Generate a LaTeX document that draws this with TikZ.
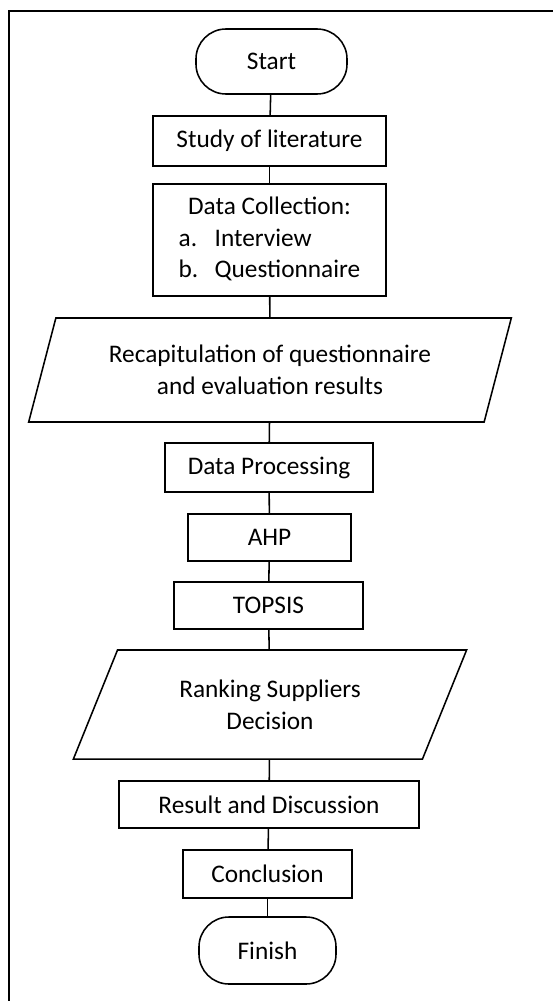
\documentclass[tikz,border=0pt]{standalone}
\usepackage{fontspec}
\setmainfont{Carlito}
\usepackage{tikz}
\usetikzlibrary{shapes.geometric}

\begin{document}
\begin{tikzpicture}[x=0.025cm, y=-0.025cm,
            font=\fontsize{18}{22.5}\selectfont,
            box/.style={draw, line width=1.1pt, align=center, inner sep=0pt},
            terminal/.style={box, rounded corners=0.75cm},
            iobox/.style={draw, line width=1.1pt, align=center, trapezium, trapezium stretches=true, inner sep=0pt},
            link/.style={line width=1.1pt}]

            % Page frame (cut at right and bottom)
            \useasboundingbox (0,0) rectangle (553,1001);
            \coordinate (frameBL) at (9,1001);
            \coordinate (frameTL) at (9,11);
            \coordinate (frameTR) at (553,11);
            \draw[line width=1.6pt] (frameBL) -- (frameTL) -- (frameTR);

            % Flow steps
            \node[terminal, minimum width=3.775cm, minimum height=1.625cm] (start) at (271.5,61.5) {Start};
            \node[box, minimum width=5.825cm, minimum height=1.25cm] (study) at (269.5,141) {Study of literature};
            \node[box, minimum width=5.825cm, minimum height=2.8cm] (collect) at (269.5,240) {%
                \begin{tabular}{@{}l@{}}
                \multicolumn{1}{@{}c@{}}{Data Collection:}\\
                \makebox[0.9cm][l]{a.}Interview\\
                \makebox[0.9cm][l]{b.}Questionnaire
                \end{tabular}};
            \node[iobox, trapezium left angle=67.5, trapezium right angle=112.5, minimum width=12.1cm, minimum height=2.6cm] (recap) at (270,370) {Recapitulation of questionnaire\\and evaluation results};
            \node[box, minimum width=5.2cm, minimum height=1.225cm] (process) at (269,467.5) {Data Processing};
            \node[box, minimum width=4.075cm, minimum height=1.175cm] (ahp) at (269.5,537.5) {AHP};
            \node[box, minimum width=4.725cm, minimum height=1.175cm] (topsis) at (268.5,605.5) {TOPSIS};
            \node[iobox, trapezium left angle=62, trapezium right angle=118, minimum width=9.85cm, minimum height=2.725cm] (rank) at (270,704.5) {Ranking Suppliers\\Decision};
            \node[box, minimum width=7.5cm, minimum height=1.175cm] (result) at (269,804.5) {Result and Discussion};
            \node[box, minimum width=4.225cm, minimum height=1.2cm] (concl) at (267.5,874) {Conclusion};
            \node[terminal, minimum width=3.425cm, minimum height=1.675cm] (finish) at (267.5,950.5) {Finish};

            % Connectors
            \draw[link] (start) -- (study);
            \draw[link] (study) -- (collect);
            \draw[link] (collect) -- (recap);
            \draw[link] (recap) -- (process);
            \draw[link] (process) -- (ahp);
            \draw[link] (ahp) -- (topsis);
            \draw[link] (topsis) -- (rank);
            \draw[link] (rank) -- (result);
            \draw[link] (result) -- (concl);
            \draw[link] (concl) -- (finish);
        \end{tikzpicture}
\end{document}
